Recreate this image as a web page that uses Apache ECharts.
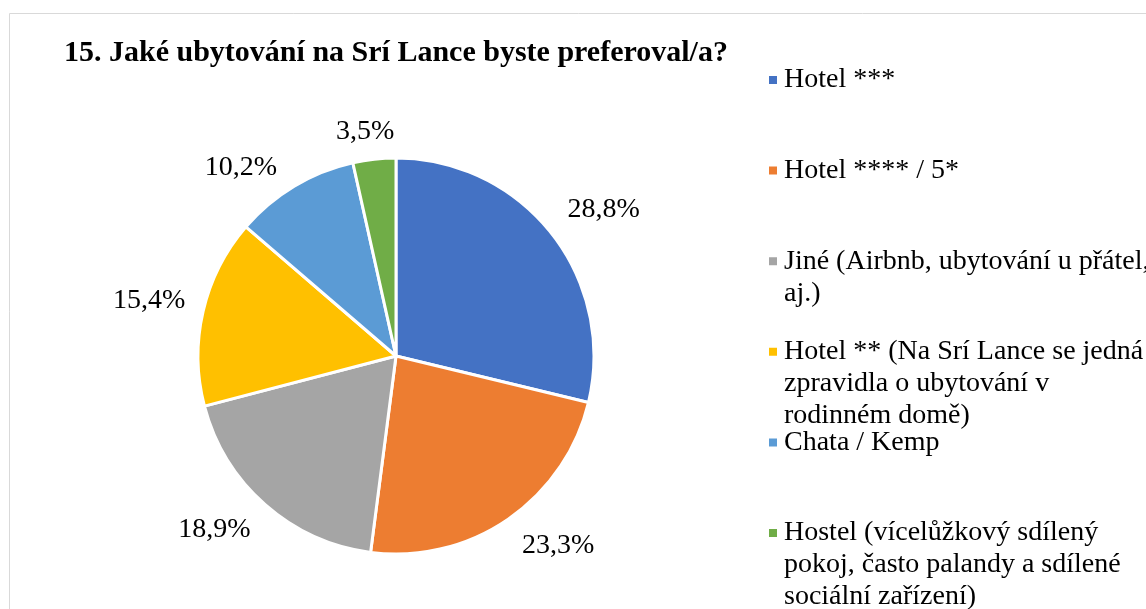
<!DOCTYPE html>
<html>
<head>
<meta charset="utf-8">
<style>
  html, body { margin: 0; padding: 0; background: #fff; }
  #main { width: 1146px; height: 609px; }
</style>
<script src="https://cdn.jsdelivr.net/npm/echarts@6/dist/echarts.min.js"></script>
</head>
<body>
<div id="main"></div>
<script>
// data
const categories = [
  'Hotel ***',
  'Hotel **** / 5*',
  'Jiné (Airbnb, ubytování u přátel, aj.)',
  'Hotel ** (Na Srí Lance se jedná zpravidla o ubytování v rodinném domě)',
  'Chata / Kemp',
  'Hostel (vícelůžkový sdílený pokoj, často palandy a sdílené sociální zařízení)'
];
const shares = [28.8, 23.3, 18.9, 15.4, 10.2, 3.5];
// legend text as it wraps in the picture
const legendLines = [
  ['Hotel ***'],
  ['Hotel **** / 5*'],
  ['Jiné (Airbnb, ubytování u přátel,', 'aj.)'],
  ['Hotel ** (Na Srí Lance se jedná', 'zpravidla o ubytování v', 'rodinném domě)'],
  ['Chata / Kemp'],
  ['Hostel (vícelůžkový sdílený', 'pokoj, často palandy a sdílené', 'sociální zařízení)']
];
const colors = ['#4472C4', '#ED7D31', '#A5A5A5', '#FFC000', '#5B9BD5', '#70AD47'];

const FONT = '"Liberation Serif", "DejaVu Serif", serif';
const LINE_H = 32;
const LEGEND_Y0 = 80;     // centre of first marker
const LEGEND_STEP = 90.6; // distance between markers

const chart = echarts.init(document.getElementById('main'));

// one legend per entry so the marker sits on the first text line
const legends = categories.map((name, i) => {
  const n = legendLines[i].length;
  return {
    orient: 'vertical',
    left: 767,
    top: LEGEND_Y0 + i * LEGEND_STEP - (2 * n - 1) * LINE_H / 2,
    padding: 0,
    itemWidth: 10,
    itemHeight: 10,
    icon: 'rect',
    selectedMode: false,
    data: [name],
    formatter: () => '\n'.repeat(n - 1) + legendLines[i].join('\n'),
    textStyle: {
      fontFamily: FONT,
      fontSize: 28,
      lineHeight: LINE_H,
      color: '#000',
      padding: [0, 0, 0, 1]
    }
  };
});

chart.setOption({
  animation: false,
  title: {
    text: '15. Jaké ubytování na Srí Lance byste preferoval/a?',
    left: 64,
    top: 38,
    padding: 0,
    textStyle: {
      fontFamily: FONT,
      fontWeight: 'bold',
      fontSize: 30,
      color: '#000'
    }
  },
  legend: legends,
  graphic: [{
    type: 'rect',
    shape: { x: 9.5, y: 13.5, width: 1400, height: 900 },
    style: { fill: 'none', stroke: '#d9d9d9', lineWidth: 1 },
    silent: true
  }],
  series: [{
    type: 'pie',
    center: [396, 356],
    radius: 198,
    startAngle: 90,
    clockwise: true,
    itemStyle: { borderColor: '#fff', borderWidth: 3 },
    label: {
      show: true,
      position: 'outside',
      fontFamily: FONT,
      fontSize: 28,
      color: '#000',
      distanceToLabelLine: 0,
      formatter: p => p.value.toFixed(1).replace('.', ',') + '%'
    },
    labelLine: { show: true, length: 6, length2: 0, lineStyle: { opacity: 0 } },
    // Excel style: label box (with its inner margins) just outside the rim
    labelLayout: function (p) {
      const pts = p.labelLinePoints;
      if (!pts) return {};
      const vx = pts[1][0] - pts[0][0];
      const vy = pts[1][1] - pts[0][1];
      const len = Math.hypot(vx, vy) || 1;
      const ux = vx / len, uy = vy / len;
      const gap = 10;
      const w = p.labelRect.width + 16, h = p.labelRect.height + 8;
      const kx = Math.max(-1, Math.min(1, ux * 2));
      const ky = Math.max(-1, Math.min(1, uy * 2));
      return {
        x: pts[0][0] + ux * gap + kx * w / 2,
        y: pts[0][1] + uy * gap + ky * h / 2,
        align: 'center',
        verticalAlign: 'middle'
      };
    },
    data: categories.map((name, i) => ({
      name: name,
      value: shares[i],
      itemStyle: { color: colors[i] }
    }))
  }]
});
</script>
</body>
</html>
